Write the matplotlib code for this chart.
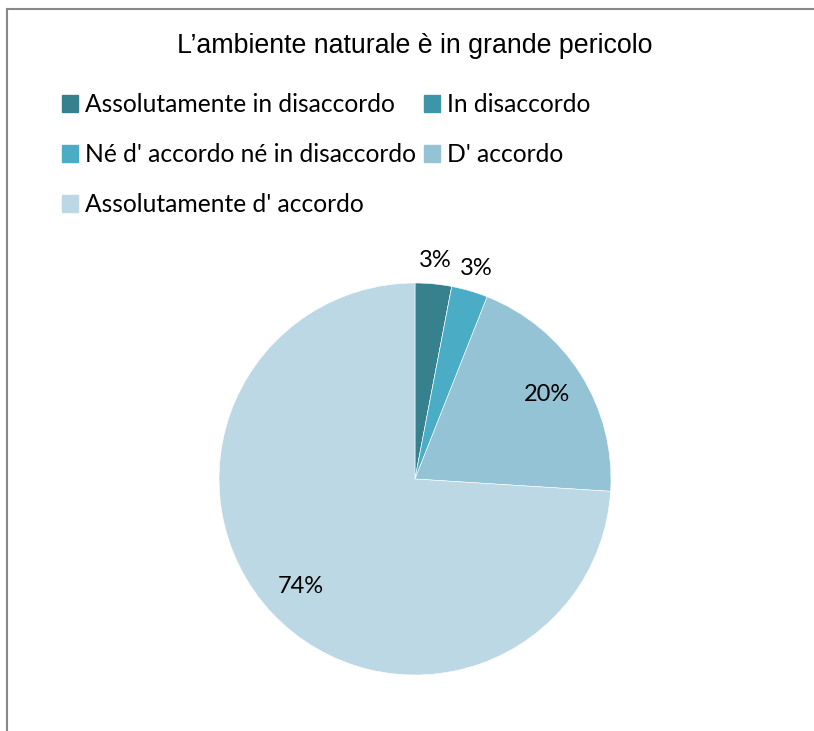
import numpy as np
import matplotlib.pyplot as plt
from matplotlib.lines import Line2D

# data
categories = ['Assolutamente in disaccordo', 'In disaccordo',
              'Né d\' accordo né in disaccordo', 'D\' accordo',
              'Assolutamente d\' accordo']
values = [3, 0, 3, 20, 74]
colors = ['#37818F', '#3C95A8', '#4BACC6', '#93C3D4', '#BCD8E4']
title = 'L\u2019ambiente naturale è in grande pericolo'

fig = plt.figure(figsize=(8.14, 7.31), dpi=100)

# frame lines (top and left, as in the reference)
fig.add_artist(Line2D([0.009, 0.009], [0, 0.988], transform=fig.transFigure, color='#888888', lw=1.5))
fig.add_artist(Line2D([0.009, 1.0], [0.988, 0.988], transform=fig.transFigure, color='#888888', lw=1.5))

# pie area: center (415,479) px, radius 196 px
cx, cy, r = 415 / 814, 1 - 479 / 731, 196
w = 2 * r / 814
h = 2 * r / 731
ax = fig.add_axes([cx - w / 2, cy - h / 2, w, h])

wedges, _ = ax.pie(values, colors=colors, startangle=90, counterclock=False,
                   wedgeprops=dict(linewidth=0.4, edgecolor='white'))
ax.set_aspect('equal')
ax.set_xlim(-1, 1)
ax.set_ylim(-1, 1)

total = sum(values)
for wd, v in zip(wedges, values):
    if v == 0:
        continue
    ang = np.deg2rad((wd.theta1 + wd.theta2) / 2)
    d = 0.8 if v >= 10 else 1.12
    ax.text(d * np.cos(ang), d * np.sin(ang), '%d%%' % round(100 * v / total),
            ha='center', va='center', fontsize=17, family='Lato', color='black')

fig.text(cx, 1 - 46 / 731, title, ha='center', va='center', fontsize=19.3,
         family='Liberation Sans')

# legend in row order: column 1 then column 2
order = [0, 2, 4, 1, 3]
handles = [plt.Rectangle((0, 0), 1, 1, color=colors[i]) for i in order]
labels = [categories[i] for i in order]
fig.legend(handles, labels, ncol=2, loc='upper left', bbox_to_anchor=(62 / 814, 1 - 93 / 731),
           frameon=False, prop=dict(family='Lato', size=17.7), handlelength=0.65,
           handleheight=0.65, handletextpad=0.3, columnspacing=0.3, labelspacing=1.1,
           borderpad=0, borderaxespad=0)

fig.savefig('out.png', dpi=100)
